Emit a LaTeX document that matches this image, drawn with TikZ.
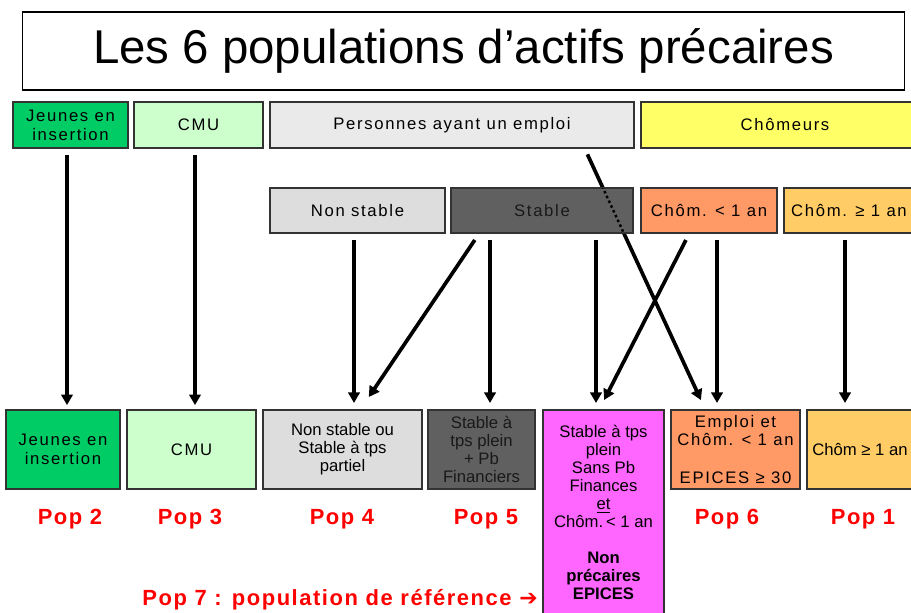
\documentclass[tikz,border=0pt]{standalone}
\usepackage{fontspec}
\setmainfont{Liberation Sans}
\newfontfamily\spaced[LetterSpace=10]{Liberation Sans}
\newfontfamily\popfont[LetterSpace=7]{Liberation Sans}
\newfontfamily\symfont{DejaVu Sans}
\usepackage{tikz}
\usetikzlibrary{arrows.meta}
\usepackage{xcolor}
\definecolor{jeunesgreen}{HTML}{00CC66}
\definecolor{cmugreen}{HTML}{CCFFCC}
\definecolor{emploigray}{HTML}{EAEAEA}
\definecolor{chomyellow}{HTML}{FFFF66}
\definecolor{nonstablegray}{HTML}{DDDDDD}
\definecolor{stablegray}{HTML}{606060}
\definecolor{chomorange}{HTML}{FF9966}
\definecolor{chomlight}{HTML}{FFCC66}
\definecolor{refpink}{HTML}{FF66FF}
\definecolor{popred}{HTML}{FF0000}

\begin{document}
\begin{tikzpicture}[x=0.02cm,y=-0.02cm,>={Triangle[length=6pt,width=6.5pt]},
  box/.style={draw=black!80,line width=0.8pt,inner sep=0pt,outer sep=0pt,align=center,
    font=\spaced\fontsize{9.5}{10.8}\selectfont},
  plainbox/.style={box,font=\fontsize{9.5}{10.2}\selectfont},
  toprow/.style={box,minimum height=0.92cm},
  midrow/.style={box,minimum height=0.9cm},
  lowrow/.style={box,minimum height=1.58cm},
  arr/.style={->,line width=2.1pt,shorten <=4pt},
  poplabel/.style={text=popred,font=\popfont\bfseries\fontsize{12.5}{14}\selectfont}]
\clip (0,0) rectangle (911,612);
% titre
\node[draw=black,line width=0.6pt,minimum width=17.66cm,minimum height=1.56cm,
  font=\fontsize{27}{30}\selectfont] (titre) at (463.5,51) {Les 6 populations d’actifs précaires};
% premiere ligne
\node[toprow,fill=jeunesgreen,minimum width=2.3cm] (jeunesA) at (70.5,125) {Jeunes en\\insertion};
\node[toprow,fill=cmugreen,minimum width=2.58cm] (cmuA) at (198.5,125) {CMU};
\node[toprow,fill=emploigray,minimum width=7.28cm] (emploiA) at (452,125) {Personnes ayant un emploi};
\node[toprow,fill=chomyellow,minimum width=5.76cm] (chomeurs) at (785,125) {Chômeurs};
% ligne du bas
\node[lowrow,fill=jeunesgreen,minimum width=2.28cm] (pjeunes) at (63,449.5) {Jeunes en\\insertion};
\node[lowrow,fill=cmugreen,minimum width=2.58cm] (pcmu) at (191.5,449.5) {CMU};
\node[lowrow,plainbox,fill=nonstablegray,minimum width=3.18cm,minimum height=1.58cm] (pnonstable) at (342.5,449.5)
  {Non stable ou\\Stable à tps\\partiel};
\node[lowrow,plainbox,fill=stablegray,text=black!90,minimum width=2.14cm,minimum height=1.58cm] (pstable) at (481.5,449.5)
  {Stable à\\tps plein\\+ Pb\\Financiers};
\node[plainbox,fill=refpink,minimum width=2.42cm,minimum height=4.1cm] (pref) at (603.5,512.5)
  {Stable à tps\\plein\\Sans Pb\\Finances\\\underline{et}\\Chôm.\,< 1 an\\[10.2pt]
   \textbf{Non}\\\textbf{précaires}\\\textbf{EPICES}};
\node[lowrow,fill=chomorange,minimum width=2.58cm] (pemploi) at (735.5,449.5)
  {Emploi et\\Chôm. < 1 an\\[10.8pt]EPICES ≥ 30};
\node[lowrow,plainbox,fill=chomlight,minimum width=2.12cm,minimum height=1.58cm] (pchom) at (860,449.5) {Chôm ≥ 1 an};
% fleche qui traverse Stable
\coordinate (e1) at ([xshift=2.65cm]emploiA.south);
\coordinate (e2) at ([xshift=-0.6cm]pemploi.north);
\draw[arr,shorten >=6.2pt] (e1) -- (e2);
% deuxieme ligne
\node[midrow,fill=nonstablegray,minimum width=3.5cm] (nonstable) at (357.5,210.5) {Non stable};
\node[midrow,fill=stablegray,text=black!90,minimum width=3.64cm] (stable) at (542,210.5) {Stable};
\node[midrow,fill=chomorange,minimum width=2.72cm] (chomA) at (709,210.5) {Chôm. < 1 an};
\node[midrow,fill=chomlight,minimum width=2.6cm] (chomB) at (849,210.5) {Chôm. ≥ 1 an};
\begin{scope}
\clip (stable.south west) rectangle (stable.north east);
\draw[line width=1.4pt,dash pattern=on 1.4pt off 1.6pt] (e1) -- (e2);
\end{scope}
% fleches
\draw[arr,shorten >=2.8pt] ([xshift=-0.07cm]jeunesA.south) -- ([xshift=-0.07cm]jeunesA.south |- pjeunes.north);
\draw[arr,shorten >=2.8pt] ([xshift=-0.07cm]cmuA.south) -- ([xshift=-0.07cm]cmuA.south |- pcmu.north);
\draw[arr,shorten >=4pt] ([xshift=-0.07cm]nonstable.south) -- ([xshift=-0.07cm]nonstable.south |- pnonstable.north);
\draw[arr,shorten <=4.8pt,shorten >=8.9pt] ([xshift=-1.25cm]stable.south) -- ([xshift=0.35cm]pnonstable.north);
\draw[arr,shorten >=4pt] ([xshift=0.17cm]pstable.north |- stable.south) -- ([xshift=0.17cm]pstable.north);
\draw[arr,shorten >=4pt] ([xshift=-0.15cm]pref.north |- stable.south) -- ([xshift=-0.15cm]pref.north);
\draw[arr,shorten <=4.5pt,shorten >=6.4pt] ([xshift=-0.39cm]chomA.south) -- ([xshift=-0.09cm]pref.north);
\draw[arr,shorten >=4pt] ([xshift=0.16cm]chomA.south) -- ([xshift=0.16cm]chomA.south |- pemploi.north);
\draw[arr,shorten >=4pt] ([xshift=-0.08cm]chomB.south) -- ([xshift=-0.08cm]chomB.south |- pchom.north);
% populations
\node[poplabel] (pop2) at (70,519) {Pop 2};
\node[poplabel] (pop3) at (190,519) {Pop 3};
\node[poplabel] (pop4) at (342,519) {Pop 4};
\node[poplabel] (pop5) at (486,519) {Pop 5};
\node[poplabel] (pop6) at (727,519) {Pop 6};
\node[poplabel] (pop1) at (863,519) {Pop 1};
\node[poplabel,anchor=east,inner sep=0pt] (pop7) at (538,600)
  {Pop 7 : population de référence {\symfont\bfseries ➔}};
\end{tikzpicture}
\end{document}
